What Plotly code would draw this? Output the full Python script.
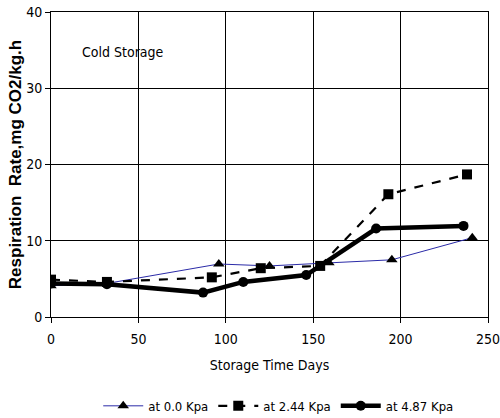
import plotly.graph_objects as go

days_a = [0, 32, 96, 125, 159, 195, 241]
rate_a = [4.1, 4.4, 6.95, 6.7, 7.1, 7.5, 10.4]

days_b = [0, 32, 92, 120, 154, 193, 238]
rate_b = [4.9, 4.6, 5.2, 6.4, 6.7, 16.1, 18.7]

days_c = [0, 32, 87, 110, 146, 186, 236]
rate_c = [4.4, 4.3, 3.2, 4.6, 5.5, 11.6, 11.95]

names = ["at 0.0 Kpa", "at 2.44 Kpa", "at 4.87 Kpa"]

font_narrow = "DejaVu Sans Condensed, Roboto, Liberation Sans, Arial, sans-serif"

fig = go.Figure()
fig.add_trace(go.Scatter(
    x=days_a, y=rate_a, name=names[0], mode="lines+markers",
    line=dict(color="#2b2ba8", width=1),
    marker=dict(symbol="triangle-up", size=10, color="black"),
))
fig.add_trace(go.Scatter(
    x=days_b, y=rate_b, name=names[1], mode="lines+markers",
    line=dict(color="black", width=2.2, dash="dash"),
    marker=dict(symbol="square", size=10, color="black"),
))
fig.add_trace(go.Scatter(
    x=days_c, y=rate_c, name=names[2], mode="lines+markers",
    line=dict(color="black", width=4.5),
    marker=dict(symbol="circle", size=10, color="black"),
))

fig.add_annotation(
    x=0.067, y=0.87, xref="paper", yref="paper", xanchor="left", yanchor="middle",
    text="Cold Storage", showarrow=False,
    font=dict(family=font_narrow, size=14, color="black"),
)

fig.update_layout(
    width=500, height=418,
    margin=dict(l=51, r=12, t=12, b=101),
    paper_bgcolor="white", plot_bgcolor="white",
    font=dict(family=font_narrow, size=14, color="black"),
    showlegend=True,
    legend=dict(orientation="h", x=0.52, xanchor="center", yref="container", y=0.029, yanchor="middle",
                font=dict(family=font_narrow, size=13), itemwidth=40),
    xaxis=dict(
        range=[0, 250], tickvals=[0, 50, 100, 150, 200, 250],
        showgrid=True, gridcolor="black", gridwidth=1,
        showline=True, linecolor="black", linewidth=1, mirror=True,
        ticks="outside", ticklen=5, tickcolor="black", ticklabelstandoff=4,
        ticklabeloverflow="allow",
        zeroline=False, automargin=False,
        title=dict(text="Storage Time Days", font=dict(family=font_narrow, size=14), standoff=14),
    ),
    yaxis=dict(
        range=[0, 40], tickvals=[0, 10, 20, 30, 40],
        showgrid=True, gridcolor="black", gridwidth=1,
        showline=True, linecolor="black", linewidth=1, mirror=True,
        ticks="outside", ticklen=5, tickcolor="black",
        ticklabeloverflow="allow",
        zeroline=False, automargin=False,
        title=dict(text="<b>Respiration\u00a0 Rate,mg CO2/kg.h</b>",
                   font=dict(family="Liberation Sans, Arial, sans-serif", size=17), standoff=0),
    ),
)

fig.write_html("out.html", config={"displayModeBar": False},
               post_script="document.body.style.margin='0';")
